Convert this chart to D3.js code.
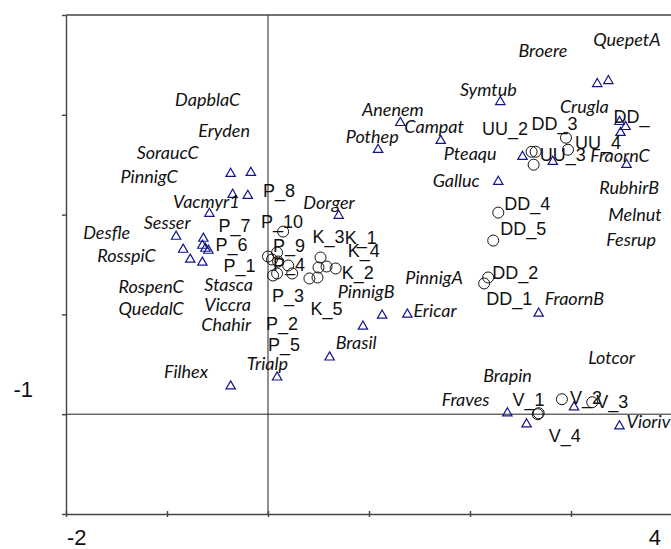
<!DOCTYPE html>
<html>
<head>
<meta charset="utf-8">
<script src="https://cdn.jsdelivr.net/npm/d3@7"></script>
<style>
  body { margin: 0; background: #fff; }
  .sp { font-family: Lato, sans-serif; font-style: italic; font-size: 18px; fill: #111; }
  .sa { font-family: "Liberation Sans", Arial, sans-serif; font-size: 18px; fill: #111; }
  .tk { font-family: "Liberation Sans", Arial, sans-serif; font-size: 22px; fill: #111; }
</style>
</head>
<body>
<div id="chart"></div>
<script>
// species scores (triangles)
var speciesX = [-0.37, -0.17, -0.35, -0.20, -0.58, -0.91, -0.64, -0.65, -0.62, -0.59, -0.84, -0.77, -0.65,
  -0.37, 0.09, 0.70, 0.61, 0.94, 1.13, 1.38, 2.68, 2.28, 2.30, 3.26, 3.37, 1.31, 1.09, 1.71,
  3.48, 3.54, 3.49, 3.55, 2.52, 2.82, 2.37, 2.56, 3.03, 3.48];
var speciesY = [2.41, 2.42, 2.20, 2.19, 2.01, 1.78, 1.76, 1.69, 1.66, 1.64, 1.65, 1.55, 1.52,
  0.28, 0.37, 1.99, 0.57, 0.88, 0.99, 1.00, 1.01, 2.33, 3.13, 3.31, 3.34, 2.92, 2.65, 2.74,
  2.93, 2.88, 2.82, 2.50, 2.58, 2.53, 0.01, -0.10, 0.07, -0.12];

// species labels
var speciesNames = ['DapblaC', 'Eryden', 'SoraucC', 'PinnigC', 'Vacmyr1', 'Sesser', 'Desfle', 'RosspiC',
  'RospenC', 'QuedalC', 'Stasca', 'Viccra', 'Chahir', 'Filhex', 'Trialp', 'Dorger', 'PinnigB', 'Brasil',
  'Ericar', 'PinnigA', 'FraornB', 'Galluc', 'RubhirB', 'Melnut', 'Fesrup', 'Lotcor', 'Brapin', 'Fraves',
  'Vioriv', 'Symtub', 'Crugla', 'FraornC', 'Pteaqu', 'Campat', 'Anenem', 'Pothep', 'Broere', 'QuepetA'];
var speciesLabelX = [-0.92, -0.69, -1.30, -1.46, -0.94, -1.23, -1.83, -1.69,
  -1.48, -1.48, -0.63, -0.63, -0.66, -1.03, -0.21, 0.35, 0.69, 0.67,
  1.44, 1.36, 2.74, 1.63, 3.28, 3.37, 3.35, 3.17, 2.13, 1.72,
  3.55, 1.90, 2.89, 3.19, 1.74, 1.35, 0.93, 0.77, 2.48, 3.22];
var speciesLabelY = [3.09, 2.78, 2.56, 2.32, 2.07, 1.86, 1.76, 1.53,
  1.21, 0.99, 1.23, 1.03, 0.83, 0.36, 0.44, 2.06, 1.16, 0.65,
  0.97, 1.30, 1.09, 2.28, 2.21, 1.94, 1.69, 0.50, 0.32, 0.08,
  -0.14, 3.19, 3.02, 2.53, 2.55, 2.82, 2.99, 2.72, 3.58, 3.69];

// sample scores (circles)
var sampleX = [0.15, 0.00, 0.09, 0.10, 0.20, 0.05, 0.09, 0.24, 0.52, 0.50, 0.58, 0.41, 0.49, 0.67, 0.04,
  2.95, 2.97, 2.61, 2.65, 2.63, 2.28, 2.23, 2.18, 2.14, 2.67, 2.68, 2.91, 3.21];
var sampleY = [1.83, 1.58, 1.62, 1.53, 1.49, 1.39, 1.41, 1.41, 1.57, 1.47, 1.48, 1.36, 1.37, 1.46, 1.55,
  2.77, 2.65, 2.63, 2.63, 2.50, 2.02, 1.74, 1.37, 1.31, 0.00, 0.01, 0.15, 0.12];

// sample labels
var sampleNames = ['P_8', 'P_10', 'P_7', 'P_6', 'P_9', 'P_1', 'P_4', 'P_3', 'P_2', 'P_5',
  'K_3', 'K_1', 'K_4', 'K_2', 'K_5', 'UU_2', 'DD_3', 'UU_4', 'UU_3', 'DD_',
  'DD_4', 'DD_5', 'DD_2', 'DD_1', 'V_1', 'V_2', 'V_3', 'V_4'];
var sampleLabelX = [-0.05, -0.07, -0.49, -0.52, 0.05, -0.44, 0.05, 0.04, -0.02, 0.00,
  0.44, 0.76, 0.79, 0.73, 0.42, 2.12, 2.61, 3.04, 2.69, 3.42,
  2.34, 2.30, 2.22, 2.16, 2.42, 2.99, 3.25, 2.78];
var sampleLabelY = [2.18, 1.87, 1.83, 1.64, 1.63, 1.42, 1.43, 1.12, 0.84, 0.63,
  1.72, 1.71, 1.58, 1.35, 0.99, 2.80, 2.85, 2.66, 2.54, 2.92,
  2.05, 1.80, 1.35, 1.09, 0.08, 0.10, 0.06, -0.28];

var xTicks = [-2, -1, 0, 1, 2, 3, 4];
var yTicks = [-1, 0, 1, 2, 3, 4];

var width = 671, height = 549;

var x = d3.scaleLinear().domain([-2, 4]).range([66, 672]);
var y = d3.scaleLinear().domain([-1, 4]).range([514, 15]);

var svg = d3.select('#chart')
  .append('svg')
    .attr('width', width)
    .attr('height', height);

// zero lines
svg.append('line')
  .attr('x1', x(0)).attr('x2', x(0))
  .attr('y1', y(-1)).attr('y2', y(4))
  .attr('stroke', '#222').attr('stroke-width', 1);
svg.append('line')
  .attr('x1', x(-2)).attr('x2', x(4))
  .attr('y1', y(0)).attr('y2', y(0))
  .attr('stroke', '#222').attr('stroke-width', 1);

// frame: top line
svg.append('line')
  .attr('x1', x(-2)).attr('x2', x(4))
  .attr('y1', y(4)).attr('y2', y(4))
  .attr('stroke', '#444').attr('stroke-width', 1.4);

var yAxis = svg.append('g')
  .attr('transform', 'translate(' + x(-2) + ',0)')
  .call(d3.axisLeft(y).tickValues(yTicks).tickSize(4).tickSizeOuter(0).tickFormat(''));

var xAxis = svg.append('g')
  .attr('transform', 'translate(0,' + y(-1) + ')')
  .call(d3.axisBottom(x).tickValues(xTicks).tickSize(3).tickSizeOuter(0).tickFormat(''));
xAxis.selectAll('.tick line').attr('y1', -3);

svg.selectAll('.domain, .tick line')
  .attr('stroke', '#444')
  .attr('stroke-width', 1.4);

// axis numbers (only the ends are labelled)
svg.append('text').attr('class', 'tk')
  .attr('x', x(-2) + 1).attr('y', 545).text('-2');
svg.append('text').attr('class', 'tk').attr('text-anchor', 'end')
  .attr('x', x(4) - 11).attr('y', 545).text('4');
svg.append('text').attr('class', 'tk').attr('text-anchor', 'end')
  .attr('x', 33).attr('y', 397).text('-1');

// species triangles
var tri = d3.symbol().type(d3.symbolTriangle).size(38);
svg.append('g').selectAll('path')
  .data(speciesX)
  .enter()
    .append('path')
      .attr('d', tri)
      .attr('transform', function(d, i) { return 'translate(' + x(d) + ',' + y(speciesY[i]) + ')'; })
      .attr('fill', 'none')
      .attr('stroke', '#14148a')
      .attr('stroke-width', 1.2);

// sample circles
svg.append('g').selectAll('circle')
  .data(sampleX)
  .enter()
    .append('circle')
      .attr('cx', function(d) { return x(d); })
      .attr('cy', function(d, i) { return y(sampleY[i]); })
      .attr('r', 5.5)
      .attr('fill', 'none')
      .attr('stroke', '#111')
      .attr('stroke-width', 1);

svg.append('g').selectAll('text')
  .data(speciesNames)
  .enter()
    .append('text')
      .attr('class', 'sp')
      .attr('x', function(d, i) { return x(speciesLabelX[i]); })
      .attr('y', function(d, i) { return y(speciesLabelY[i]); })
      .text(function(d) { return d; });

svg.append('g').selectAll('text')
  .data(sampleNames)
  .enter()
    .append('text')
      .attr('class', 'sa')
      .attr('x', function(d, i) { return x(sampleLabelX[i]); })
      .attr('y', function(d, i) { return y(sampleLabelY[i]); })
      .text(function(d) { return d; });
</script>
</body>
</html>
